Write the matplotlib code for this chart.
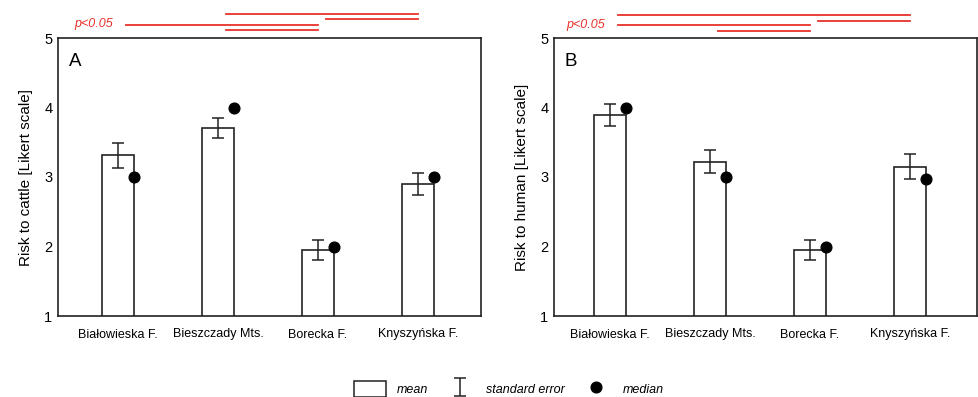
import numpy as np
import matplotlib
matplotlib.use("Agg")
import matplotlib.pyplot as plt
from matplotlib.patches import Patch
from matplotlib.lines import Line2D
from matplotlib.legend_handler import HandlerErrorbar

plt.rcParams['font.family'] = ['Liberation Sans', 'DejaVu Sans']

# dane
regions = ["Białowieska F.", "Bieszczady Mts.", "Borecka F.", "Knyszyńska F."]

cattle_mean = [3.31, 3.71, 1.95, 2.90]
cattle_se = [0.18, 0.145, 0.145, 0.155]
cattle_median = [3.0, 4.0, 2.0, 3.0]
cattle_pairs = [(1, 3), (2, 3), (0, 2), (1, 2)]

human_mean = [3.89, 3.22, 1.95, 3.15]
human_se = [0.16, 0.165, 0.145, 0.18]
human_median = [4.0, 3.0, 2.0, 2.97]
human_pairs = [(0, 3), (2, 3), (0, 2), (1, 2)]

red = '#e8312b'
dark = '#222222'


def panel(ax, mean, se, median, pairs, levels, letter, ylabel, xlim):
    x = np.arange(len(regions))
    w = 0.32
    ax.bar(x, mean, width=w, color='white', edgecolor=dark, linewidth=1.2, zorder=2)
    ax.errorbar(x, mean, yerr=se, fmt='none', ecolor=dark, elinewidth=1.1,
                capsize=4.5, capthick=1.1, zorder=3)
    ax.plot(x + w / 2, median, 'o', color='black', markersize=7.7, zorder=4,
            clip_on=False)
    ax.set_xlim(*xlim)
    ax.set_ylim(1, 5)
    ax.set_yticks([1, 2, 3, 4, 5])
    ax.set_xticks(x)
    ax.set_xticklabels(regions, fontsize=9)
    ax.tick_params(axis='y', length=0, pad=4, labelsize=10.5)
    ax.tick_params(axis='x', length=0, pad=9)
    for s in ax.spines.values():
        s.set_linewidth(1.2)
        s.set_color(dark)
    ax.set_ylabel(ylabel, fontsize=11, labelpad=8)
    ax.text(0.026, 0.915, letter, transform=ax.transAxes, fontsize=13.5,
            ha='left', va='center')
    # istotne różnice
    for (i, j), lv in zip(pairs, levels):
        ax.plot([x[i] + 0.08, x[j]], [lv, lv], color=red, lw=1.3, clip_on=False)
    ax.text(-0.05, levels[2] + 0.01, 'p<0.05', color=red, style='italic',
            fontsize=9, ha='right', va='center', clip_on=False)


fig = plt.figure(figsize=(9.79, 3.97), dpi=100)
axA = fig.add_axes([58 / 979, 1 - 316 / 397, 423 / 979, 278 / 397])
axB = fig.add_axes([554 / 979, 1 - 316 / 397, 423 / 979, 278 / 397])

panel(axA, cattle_mean, cattle_se, cattle_median, cattle_pairs,
      [5.35, 5.28, 5.19, 5.12], 'A', 'Risk to cattle [Likert scale]', (-0.6, 3.63))
panel(axB, human_mean, human_se, human_median, human_pairs,
      [5.335, 5.25, 5.18, 5.105], 'B', 'Risk to human [Likert scale]', (-0.56, 3.67))

# legenda
eb = axA.errorbar([np.nan], [np.nan], yerr=[0.1], fmt='none', ecolor=dark,
                  elinewidth=1.1, capsize=4.5, capthick=1.1)
handles = [Patch(facecolor='white', edgecolor=dark, linewidth=1.1),
           eb,
           Line2D([], [], marker='o', color='black', linestyle='none', markersize=7.7)]
fig.legend(handles, ['mean', 'standard error', 'median'], loc='center',
           bbox_to_anchor=(0.52, 0.02), ncol=3, frameon=False,
           prop={'style': 'italic', 'size': 9}, handlelength=2.6,
           handleheight=1.6, handletextpad=0.85, columnspacing=1.2,
           handler_map={type(eb): HandlerErrorbar(yerr_size=0.75)})

fig.savefig('out.png', dpi=100)
